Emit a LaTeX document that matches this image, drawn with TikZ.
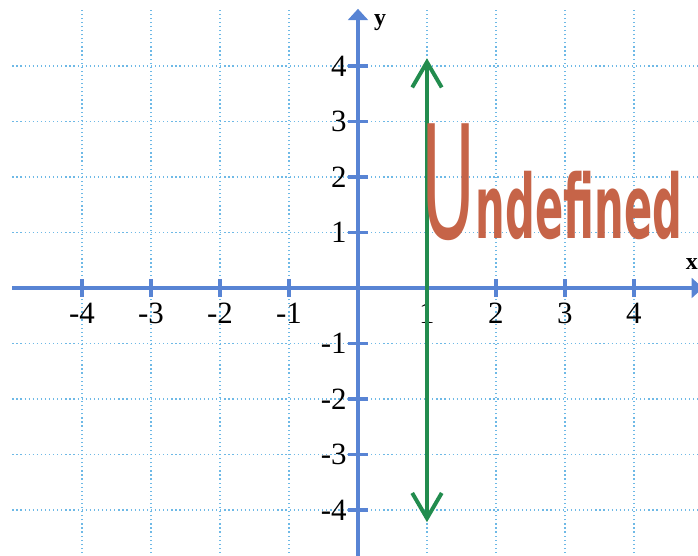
\documentclass[tikz,border=0pt]{standalone}
\usepackage{fontspec}
\setmainfont{Liberation Serif}
\newfontfamily\handfont{DejaVu Sans}
\usetikzlibrary{arrows.meta}
\definecolor{axisblue}{RGB}{88,132,212}
\definecolor{gridblue}{RGB}{110,185,230}
\definecolor{penGreen}{RGB}{34,140,78}
\definecolor{inkbrown}{RGB}{198,100,72}

\begin{document}
\begin{tikzpicture}[x=1.725cm, y=1.3875cm,
  gridline/.style={gridblue, line width=0.9pt, dotted},
  axisline/.style={axisblue, line width=2.8pt},
  axisarr/.style={axisline, -{Triangle[length=8pt,width=14pt]}},
  tickmark/.style={axisblue, line width=2.2pt},
  numlbl/.style={font=\fontsize{22}{24}\selectfont, inner sep=0pt},
  axlbl/.style={font=\fontsize{17}{19}\selectfont\bfseries, inner sep=0pt},
  vline/.style={penGreen, line width=2.8pt, line cap=round,
    {Straight Barb[length=18pt,width=21pt]}-{Straight Barb[length=18pt,width=21pt]}},
  hand/.style={inkbrown, font=\handfont, inner sep=0pt}
]
\useasboundingbox (-5.188,-4.829) rectangle (4.928,5.189);

\foreach \i in {-4,...,4} {
  \draw[gridline] (\i,-4.85) -- (\i,5.01);
  \draw[gridline] (-5.01,\i) -- (4.95,\i);
}

\coordinate (xl) at (-5.01,0);
\coordinate (xr) at (5.0,0);
\coordinate (yb) at (0,-4.85);
\coordinate (yt) at (0,5.03);
\draw[axisarr] (xl) -- (xr);
\draw[axisarr] (yb) -- (yt);

\foreach \i in {-4,...,-1,1,2,3,4} {
  \draw[tickmark] (\i,-0.16) -- (\i,0.16);
  \draw[tickmark] (-0.145,\i) -- (0.145,\i);
  \node[numlbl] (xn\i) at (\i,-0.45) {\i};
  \node[numlbl, anchor=east] (yn\i) at (-0.16,\i) {\i};
}

\node[axlbl] (ylab) at (0.32,4.79) {y};
\node[axlbl] (xlab) at (4.84,0.43) {x};

\coordinate (vtop) at (1,4.14);
\coordinate (vbot) at (1,-4.22);
\draw[vline] (vbot) -- (vtop);

\node[hand, anchor=base west] (undef) at (0.92,0.9)
  {\scalebox{0.47}[1]{{\fontsize{112}{112}\selectfont U}\fontsize{63}{63}\selectfont\bfseries ndefined}};
\end{tikzpicture}
\end{document}
